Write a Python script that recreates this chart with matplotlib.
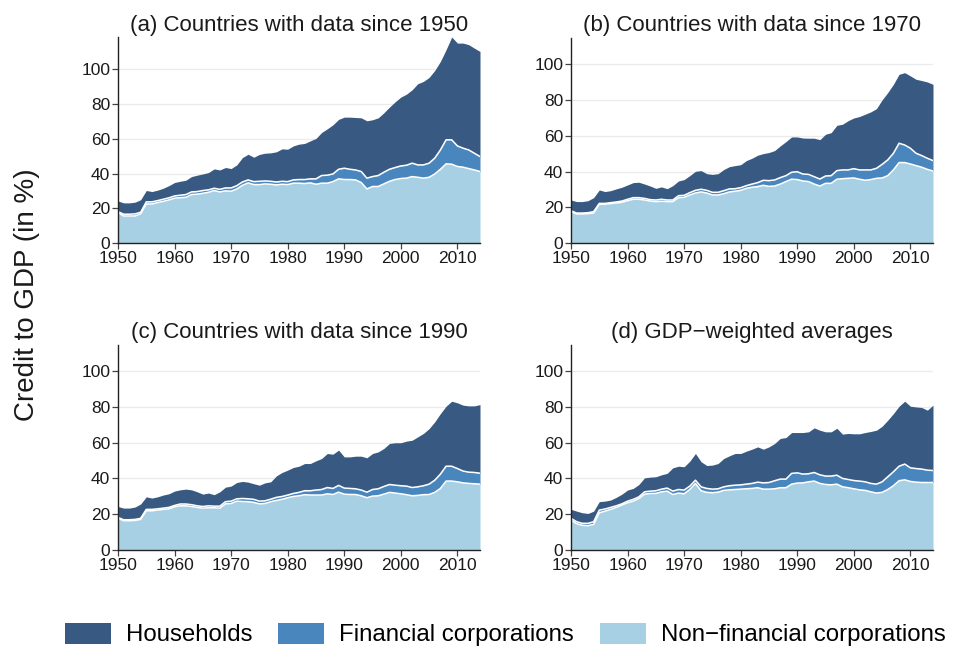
import numpy as np
import matplotlib
matplotlib.use("Agg")
import matplotlib.pyplot as plt
from matplotlib.patches import Patch

plt.rcParams['font.family'] = ['Liberation Sans', 'DejaVu Sans']

YEARS = list(range(1950, 2015))

# Stacked boundaries (level of Non-financial corp.,
# Non-financial + Financial, and total incl. Households), % of GDP
A_TOTAL = [24.3,23.2,23.2,23.6,25.0,30.3,29.7,30.5,31.6,33.1, 34.9,35.6,36.2,38.3,39.1,39.8,40.6,42.7,42.1,43.5,
           42.9,45.0,49.2,51.1,49.4,51.0,51.7,51.9,52.5,54.2, 54.0,55.9,56.9,57.3,58.8,60.2,63.6,65.7,68.0,71.1,
           72.4,72.4,72.2,72.0,70.3,70.9,72.0,74.9,78.2,81.2, 83.9,85.6,88.1,91.6,92.9,95.2,99.2,104.4,111.1,118.4,
           114.9,114.9,114.0,112.0,110.1]
A_FINTOP = [18.2,16.7,16.7,16.9,17.8,23.8,23.8,24.5,25.3,26.1, 27.2,27.6,28.0,29.5,29.7,30.3,30.7,31.6,31.0,31.8,
            31.8,33.1,35.2,36.4,35.4,35.6,35.8,35.6,35.2,35.6, 35.4,36.4,36.6,36.6,37.0,37.0,38.9,39.1,39.8,42.5,
            43.1,42.5,42.1,41.2,37.4,38.3,38.9,40.8,42.5,43.5, 44.4,44.8,46.0,45.0,45.0,46.0,48.9,53.6,59.4,59.4,
            55.9,54.6,53.6,51.7,49.8]
A_NFC = [17.6,15.7,15.7,15.7,16.9,22.6,22.6,23.4,24.1,24.9, 25.9,26.2,26.4,28.0,28.2,28.7,29.3,30.3,29.5,30.1,
         29.9,31.2,33.3,34.7,33.7,33.7,34.1,33.9,33.5,33.9, 33.7,34.5,34.5,34.3,34.7,33.9,34.5,34.5,35.4,37.0,
         36.6,36.6,36.4,34.9,31.2,32.6,32.6,34.1,35.6,36.6, 37.2,37.4,38.3,37.9,37.4,37.9,39.8,42.5,45.6,45.4,
         44.1,43.7,42.9,42.1,41.2]

B_TOTAL = [24.2,23.3,23.3,23.8,25.5,29.8,28.9,29.4,30.4,31.3, 32.6,33.9,34.1,33.1,32.0,30.7,31.5,30.5,32.2,34.8,
           35.6,37.8,40.2,40.6,38.9,38.5,38.9,41.2,42.8,43.4, 43.9,46.2,47.5,49.2,50.1,50.7,51.8,54.4,56.8,59.4,
           59.4,58.8,58.7,58.7,57.9,60.9,61.8,65.9,66.5,68.5, 70.0,70.8,72.1,73.4,75.2,80.1,84.2,88.8,94.4,95.3,
           93.5,91.6,90.9,90.1,88.8]
B_FINTOP = [18.2,16.9,16.9,17.1,17.7,22.3,22.3,22.7,23.1,23.6, 24.6,25.5,25.5,25.1,24.4,24.2,24.6,24.2,24.2,26.6,
            26.8,28.3,29.6,30.2,29.6,28.5,28.5,29.4,30.4,30.5, 31.1,32.2,33.1,33.9,35.2,35.0,35.4,36.7,37.8,39.7,
            40.0,38.7,38.5,37.2,35.9,37.6,37.8,40.6,41.0,41.0, 41.7,41.0,41.0,41.0,41.9,44.1,46.6,50.3,55.9,54.9,
            53.1,50.3,49.0,47.5,46.2]
B_NFC = [17.7,16.4,16.4,16.6,16.9,21.8,21.8,22.2,22.5,22.9, 23.8,24.6,24.6,24.2,23.6,23.3,23.5,23.3,23.3,25.5,
         25.7,27.0,28.1,28.7,28.1,27.0,27.0,27.7,28.7,29.1, 29.6,30.7,31.3,31.7,32.4,31.8,32.0,33.1,34.5,35.8,
         35.6,34.8,34.5,33.1,32.0,33.5,33.5,35.8,36.1,36.3, 36.5,35.8,35.2,35.6,36.3,36.5,37.8,41.0,45.1,45.1,
         44.3,43.4,42.5,41.3,40.4]

C_TOTAL = [24.3,23.4,23.4,24.0,25.7,29.7,29.0,29.7,30.7,31.4, 32.9,33.6,34.0,33.6,32.5,31.2,31.8,30.9,32.5,35.1,
           35.7,37.7,38.3,37.9,37.0,36.2,37.5,38.1,41.4,43.3, 44.6,46.1,46.8,48.3,48.3,49.8,51.1,53.9,53.5,55.8,
           52.0,52.0,52.4,52.4,51.5,53.9,54.8,56.7,59.5,59.9, 59.9,60.8,61.3,63.2,65.1,67.8,71.6,76.2,80.3,83.1,
           82.2,80.9,80.5,80.5,81.2]
C_FINTOP = [18.2,16.9,16.9,17.1,17.7,22.7,22.7,23.0,23.4,23.8, 24.9,25.7,25.7,25.3,24.7,24.3,24.7,24.5,24.5,27.0,
            27.3,28.6,28.8,28.6,28.3,27.3,27.5,28.4,29.4,29.9, 30.7,31.6,32.2,33.1,33.1,33.5,33.8,34.9,34.4,36.1,
            34.6,34.4,34.2,33.5,32.3,33.8,34.2,35.5,36.6,36.2, 35.9,35.7,34.9,35.3,35.9,36.8,39.0,42.4,46.8,46.8,
            45.5,44.1,43.5,43.3,42.9]
C_NFC = [17.7,16.4,16.4,16.5,17.1,21.9,21.9,22.3,22.7,23.0, 24.2,24.7,24.7,24.3,23.8,23.4,23.6,23.6,23.4,25.8,
         26.0,27.3,27.1,27.0,26.6,25.8,26.0,27.0,27.7,28.3, 29.2,29.9,30.3,30.9,30.7,30.7,30.7,31.4,31.0,32.3,
         31.2,31.0,31.0,30.3,29.2,30.1,30.3,31.2,32.2,31.8, 31.4,30.9,30.3,30.5,30.9,31.0,32.2,34.4,38.5,38.5,
         38.1,37.5,37.2,37.0,36.8]

D_TOTAL = [22.7,21.7,20.8,20.4,21.7,27.0,27.3,27.9,29.4,31.2, 33.5,34.4,36.6,40.3,40.7,40.9,42.0,42.8,45.9,46.8,
           46.5,49.6,53.9,49.3,47.2,47.4,48.3,51.1,52.6,53.9, 53.9,55.2,56.3,57.6,56.3,57.6,59.5,62.3,62.8,65.6,
           65.6,65.6,66.0,68.2,66.9,66.0,66.0,68.0,64.7,65.1, 64.9,64.9,65.6,66.2,66.9,69.1,72.5,76.2,80.3,83.1,
           80.3,79.9,79.6,78.1,80.9]
D_FINTOP = [17.7,15.8,14.9,14.9,15.8,22.3,22.9,23.8,24.7,25.8, 27.3,28.3,29.7,32.5,32.9,33.1,34.0,34.6,32.9,33.8,
            33.5,35.7,39.0,35.3,34.4,34.0,34.2,35.3,35.9,36.2, 36.4,36.8,37.2,37.9,37.5,37.7,38.7,39.6,39.6,42.8,
            43.1,42.4,42.6,43.3,42.0,41.3,41.3,41.8,40.0,39.4, 38.8,38.5,38.1,37.2,36.8,38.1,40.9,43.7,46.8,48.0,
            45.9,45.5,45.2,44.6,44.4]
D_NFC = [16.7,14.7,13.8,13.6,14.3,20.8,21.7,22.7,23.8,25.1, 26.4,27.3,28.8,31.2,31.6,31.6,32.5,32.9,31.0,31.8,
         31.4,33.8,37.2,33.1,32.2,32.0,32.3,33.3,33.6,33.8, 34.0,34.2,34.4,34.8,34.0,34.0,34.2,34.8,34.8,36.8,
         37.4,37.5,38.1,38.5,37.2,36.6,36.4,36.8,35.3,34.8, 34.2,33.6,33.3,32.5,31.8,32.2,33.8,35.9,38.7,39.2,
         38.3,37.9,37.7,37.7,37.7]

TITLES = ["(a) Countries with data since 1950", "(b) Countries with data since 1970",
          "(c) Countries with data since 1990", "(d) GDP\u2212weighted averages"]
SERIES_NAMES = ["Households", "Financial corporations", "Non\u2212financial corporations"]
X_TICKS = [1950, 1960, 1970, 1980, 1990, 2000, 2010]
Y_TICKS = [0, 20, 40, 60, 80, 100]

COL_HH = "#385a82"
COL_FIN = "#4a86be"
COL_NFC = "#a8d0e4"

W, H = 954, 649
fig = plt.figure(figsize=(W / 100, H / 100), dpi=100)

panels = [
    (A_NFC, A_FINTOP, A_TOTAL, (118, 37, 480, 243.3), 118.4, 4),
    (B_NFC, B_FINTOP, B_TOTAL, (571, 38.3, 933, 243.3), 114.5, 5),
    (C_NFC, C_FINTOP, C_TOTAL, (118, 345, 480, 550), 114.5, 5),
    (D_NFC, D_FINTOP, D_TOTAL, (571, 345, 933, 550), 114.5, 5),
]

yrs = np.array(YEARS)
for (nfc, fintop, total, (l, t, r, b), ytop, pad), title in zip(panels, TITLES):
    ax = fig.add_axes([l / W, 1 - b / H, (r - l) / W, (b - t) / H])
    nfc = np.array(nfc); fintop = np.array(fintop); total = np.array(total)
    ax.fill_between(yrs, fintop, total, color=COL_HH, lw=0, zorder=2)
    ax.fill_between(yrs, nfc, fintop, color=COL_FIN, lw=0, zorder=2)
    ax.fill_between(yrs, 0, nfc, color=COL_NFC, lw=0, zorder=2)
    ax.plot(yrs, fintop, color="white", lw=1.1, zorder=3)
    ax.plot(yrs, nfc, color="white", lw=1.1, zorder=3)
    ax.set_xlim(1950, 2014)
    ax.set_ylim(0, ytop)
    ax.set_xticks(X_TICKS)
    ax.set_yticks(Y_TICKS)
    ax.yaxis.grid(True, color="#ebebeb", lw=0.9, zorder=0)
    ax.set_axisbelow(True)
    for s in ["top", "right"]:
        ax.spines[s].set_visible(False)
    for s in ["left", "bottom"]:
        ax.spines[s].set_color("#222222")
        ax.spines[s].set_linewidth(1.0)
        ax.spines[s].set_zorder(4)
    ax.tick_params(axis="both", direction="out", length=4, width=0.9, color="#444444",
                   labelsize=12.5, labelcolor="#1a1a1a", pad=1.5)
    ax.set_title(title, fontsize=16, pad=pad, color="#1a1a1a")

fig.text(27.5 / W, 1 - 295 / H, "Credit to GDP (in %)", rotation=90, ha="center", va="center",
         fontsize=20, color="#1a1a1a")

handles = [Patch(facecolor=c, edgecolor="none") for c in (COL_HH, COL_FIN, COL_NFC)]
fig.legend(handles, SERIES_NAMES, loc="center left", bbox_to_anchor=(65 / W, 1 - 634.5 / H),
           ncol=3, frameon=False, fontsize=17.3, borderpad=0, borderaxespad=0,
           handlelength=1.9, handleheight=1.0, handletextpad=0.62, columnspacing=1.1)

fig.savefig("out.png", dpi=100)
